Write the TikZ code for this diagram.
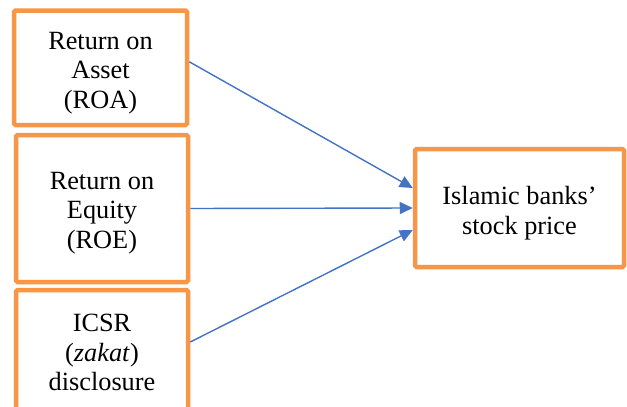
\documentclass[tikz,border=0pt]{standalone}
\usepackage{fontspec}
\setmainfont{Liberation Serif}
\usetikzlibrary{arrows.meta,calc}
\definecolor{boxorange}{HTML}{F79646}
\definecolor{arrowblue}{HTML}{4472C4}
\begin{document}
\begin{tikzpicture}[x=1pt,y=-1pt,
  varbox/.style={draw=boxorange,line width=4.5pt,rounded corners=1.5pt,inner sep=0pt},
  boxtext/.style={inner sep=0pt,align=center,font=\fontsize{26.3}{29.8}\selectfont},
  link/.style={draw=arrowblue,line width=1.4pt,-{Triangle[length=13pt,width=12pt]}}]
\useasboundingbox (0,0) rectangle (627,407);
\fill[white] (0,0) rectangle (627,407);
\node[varbox,minimum width=173pt,minimum height=114.5pt] (roa) at (100.5,67.75) {};
\node[varbox,minimum width=172pt,minimum height=147pt] (roe) at (102,208.5) {};
\node[varbox,minimum width=172pt,minimum height=124pt] (icsr) at (102,352) {};
\node[varbox,minimum width=209pt,minimum height=118pt] (price) at (519.5,208) {};
\node[boxtext] (roatext) at (100.5,73) {Return on\\Asset\\(ROA)};
\node[boxtext] (roetext) at (102,213) {Return on\\Equity\\(ROE)};
\node[boxtext] (icsrtext) at (102,352.5) {ICSR\\(\textit{zakat})\\disclosure};
\node[boxtext] (pricetext) at (519.5,213) {Islamic banks’\\stock price};
\draw[link] ([yshift=6pt]roa.east) -- ([yshift=20pt]price.west);
\draw[link] (roe.east) -- (price.west);
\draw[link] ([yshift=10pt]icsr.east) -- ([yshift=-22pt]price.west);
\end{tikzpicture}
\end{document}
